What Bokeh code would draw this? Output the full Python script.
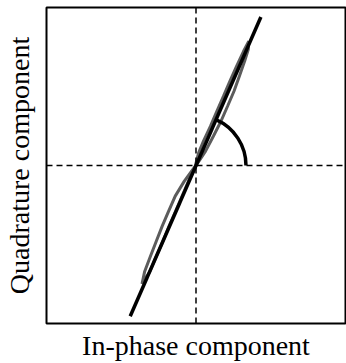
from bokeh.plotting import figure
from bokeh.models import Range1d, Span, FixedTicker
from bokeh.embed import file_html
from bokeh.resources import INLINE

# Received I/Q trajectory (closed loop) in normalised units
loop_i = [0.002, 0.064, 0.116, 0.167, 0.211, 0.254, 0.290, 0.325, 0.350, 0.353,
          0.318, 0.271, 0.227, 0.184, 0.140, 0.097, 0.050, 0.017, -0.005,
          -0.078, -0.139, -0.183, -0.226, -0.267, -0.306, -0.344, -0.361,
          -0.310, -0.267, -0.223, -0.180, -0.136, -0.093, -0.050, 0.002]
loop_q = [0.002, 0.091, 0.185, 0.280, 0.375, 0.470, 0.565, 0.660, 0.736, 0.787,
          0.723, 0.628, 0.534, 0.439, 0.344, 0.249, 0.154, 0.078, -0.004,
          -0.099, -0.194, -0.289, -0.384, -0.483, -0.578, -0.673, -0.749,
          -0.673, -0.578, -0.483, -0.384, -0.289, -0.194, -0.099, 0.002]

# Fitted principal axis through the origin
axis_i = [-0.44, 0.434]
axis_q = [-0.954, 0.94]

# Phase-angle marker (screen radius, degrees)
angle_radius_px = 50
angle_deg = 66.5

SERIF = "Liberation Serif"

p = figure(width=346, height=363,
           x_range=Range1d(-1, 1), y_range=Range1d(-1, 1),
           output_backend="svg", toolbar_location=None,
           min_border_left=0, min_border_right=1,
           min_border_top=7, min_border_bottom=0)

p.grid.visible = False
p.background_fill_color = "white"
p.border_fill_color = "white"
p.outline_line_color = "black"
p.outline_line_width = 2

for ax in (p.xaxis, p.yaxis):
    ax.ticker = FixedTicker(ticks=[])
    ax.major_label_text_font_size = "0px"
    ax.major_tick_line_color = None
    ax.minor_tick_line_color = None
    ax.axis_line_color = None
    ax.axis_label_text_font = SERIF
    ax.axis_label_text_font_style = "normal"
    ax.axis_label_text_font_size = "28px"
    ax.axis_label_text_color = "black"

p.xaxis.axis_label_standoff = 6
p.yaxis.axis_label_standoff = 12

p.xaxis.axis_label = "In-phase component"
p.yaxis.axis_label = "Quadrature component"

# Zero crosshair
p.add_layout(Span(location=0, dimension="width", line_color="black",
                  line_width=1.5, line_dash="6 4"))
p.add_layout(Span(location=0, dimension="height", line_color="black",
                  line_width=1.5, line_dash="6 4"))

p.line(loop_i, loop_q, line_color="#5c5c5c", line_width=3)
p.line(axis_i, axis_q, line_color="black", line_width=3.5)

p.arc(x=[0], y=[0], radius=angle_radius_px, radius_units="screen",
      start_angle=0, end_angle=angle_deg,
      start_angle_units="deg", end_angle_units="deg",
      line_color="black", line_width=3.5)

open("out.html", "w").write(file_html(p, INLINE))
